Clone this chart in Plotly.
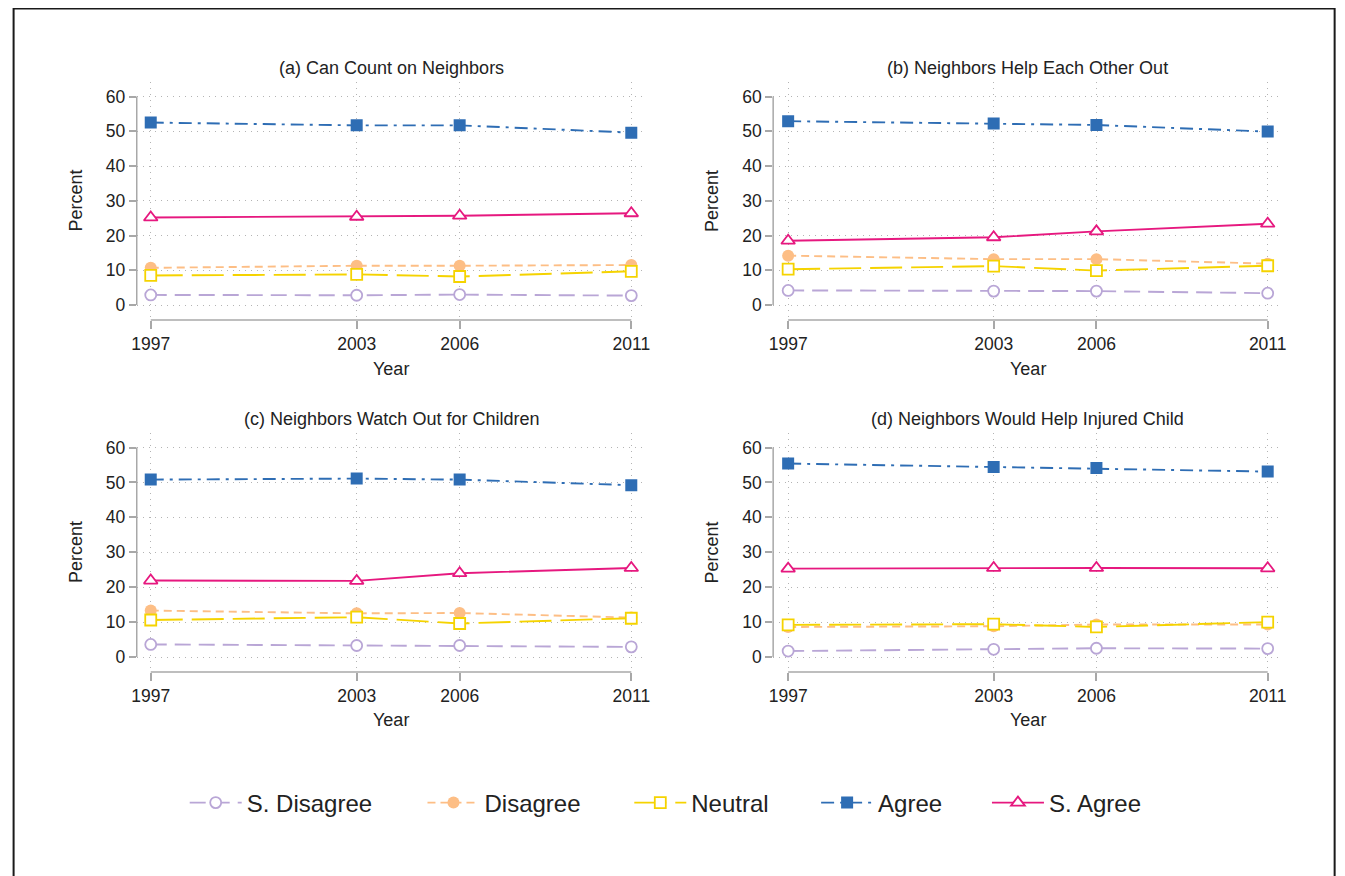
import plotly.graph_objects as go

W, H = 1345, 868

years = [1997, 2003, 2006, 2011]
series_names = ["S. Disagree", "Disagree", "Neutral", "Agree", "S. Agree"]
panel_titles = ["(a) Can Count on Neighbors", "(b) Neighbors Help Each Other Out",
                "(c) Neighbors Watch Out for Children", "(d) Neighbors Would Help Injured Child"]
y_ticks = [0, 10, 20, 30, 40, 50, 60]

# panel (a)
a_s_disagree = [2.9, 2.8, 3.0, 2.7]
a_disagree = [10.7, 11.3, 11.3, 11.5]
a_neutral = [8.5, 8.8, 8.2, 9.7]
a_agree = [52.5, 51.7, 51.7, 49.6]
a_s_agree = [25.2, 25.4, 25.7, 26.4]
# panel (b)
b_s_disagree = [4.2, 4.0, 4.0, 3.4]
b_disagree = [14.2, 13.2, 13.2, 11.9]
b_neutral = [10.3, 11.2, 9.9, 11.3]
b_agree = [52.9, 52.2, 51.8, 49.9]
b_s_agree = [18.5, 19.5, 21.2, 23.4]
# panel (c)
c_s_disagree = [3.6, 3.3, 3.3, 2.9]
c_disagree = [13.3, 12.5, 12.6, 11.3]
c_neutral = [10.6, 11.4, 9.6, 11.1]
c_agree = [50.8, 51.1, 50.8, 49.2]
c_s_agree = [21.9, 21.8, 24.0, 25.5]
# panel (d)
d_s_disagree = [1.7, 2.2, 2.5, 2.4]
d_disagree = [8.6, 8.8, 9.3, 9.3]
d_neutral = [9.2, 9.4, 8.6, 10.0]
d_agree = [55.4, 54.4, 54.1, 53.1]
d_s_agree = [25.3, 25.5, 25.5, 25.4]

panels = [
    [a_s_disagree, a_disagree, a_neutral, a_agree, a_s_agree],
    [b_s_disagree, b_disagree, b_neutral, b_agree, b_s_agree],
    [c_s_disagree, c_disagree, c_neutral, c_agree, c_s_agree],
    [d_s_disagree, d_disagree, d_neutral, d_agree, d_s_agree],
]

colors = ["#B9A6D6", "#FDBE85", "#F5D300", "#2E6DB4", "#E6187F"]
symbols = ["circle", "circle", "square", "square", "triangle-up"]
hollow = [True, False, True, False, True]
dashes = ["16px,8px", "8px,5px", "32px,9px", "13px,6px,3px,6px", "solid"]
msizes = [11, 12, 11, 12, 12]

FONT = "Liberation Sans, Arial, Helvetica, sans-serif"
TXT = "#222222"
GRID = "#b4b4b4"
AXIS = "#a8a8a8"


# reference-picture pixel -> paper fraction (page has 8px body margin,
# photographed picture is compressed slightly in x)
def fx(p):
    return ((p - 4.2) / 0.992 - 8) / W


def fy(p):
    return 1 - (p - 8) / H


# pixel boxes in reference coordinates: (left, right, top, bottom)
boxes = [(136, 643, 82, 320), (773, 1281, 82, 320),
         (136, 643, 433, 672), (773, 1281, 433, 672)]

legend_ids = ["legend", "legend2", "legend3", "legend4", "legend5"]
legend_text_start = [250, 488, 695, 882, 1053]

fig = go.Figure()

for i, data in enumerate(panels):
    ax = "" if i == 0 else str(i + 1)
    for j, name in enumerate(series_names):
        fig.add_trace(go.Scatter(
            x=years, y=data[j], mode="lines+markers", name=name,
            xaxis="x" + ax, yaxis="y" + ax,
            showlegend=(i == 0), legend=legend_ids[j], legendgroup=name,
            line=dict(color=colors[j], width=1.9, dash=dashes[j]),
            marker=dict(symbol=symbols[j], size=msizes[j],
                        color="white" if hollow[j] else colors[j],
                        line=dict(color=colors[j], width=1.8 if hollow[j] else 0)),
        ))

layout = dict(
    width=W, height=H,
    margin=dict(l=0, r=0, t=0, b=0),
    paper_bgcolor="white", plot_bgcolor="white",
    font=dict(family=FONT, color=TXT),
    showlegend=True,
)
for j, lid in enumerate(legend_ids):
    layout[lid] = dict(orientation="h", x=fx(legend_text_start[j] - 66), xanchor="left",
                       y=fy(803), yanchor="middle",
                       font=dict(size=24, family=FONT, color=TXT), itemwidth=52,
                       bgcolor="rgba(0,0,0,0)")

shapes = []
annotations = []
for i, (l, r, t, b) in enumerate(boxes):
    ax = "" if i == 0 else str(i + 1)
    if i < 2:
        y60, y0 = 96.5, 305.0
    else:
        y60, y0 = 447.5, 657.0
    ppu = (y0 - y60) / 60.0
    ylo = -(b - y0) / ppu
    yhi = 60 + (y60 - t) / ppu
    x1997 = 150.0 if i % 2 == 0 else 788.0
    x2011 = 631.0 if i % 2 == 0 else 1268.0
    ppy = (x2011 - x1997) / 14.0
    xlo = 1997 - (x1997 - l) / ppy
    xhi = 2011 + (r - x2011) / ppy
    layout["xaxis" + ax] = dict(
        domain=[fx(l), fx(r)], range=[xlo, xhi], anchor="y" + ax,
        tickvals=years, ticktext=[str(y) for y in years],
        ticks="outside", ticklen=8, tickcolor=AXIS, tickwidth=1.5,
        showgrid=True, gridcolor=GRID, griddash="1px,5px", gridwidth=1,
        showline=False, zeroline=False,
        tickfont=dict(size=17.5, family=FONT, color=TXT),
    )
    layout["yaxis" + ax] = dict(
        domain=[fy(b), fy(t)], range=[ylo, yhi], anchor="x" + ax,
        tickvals=y_ticks,
        ticks="outside", ticklen=7, tickcolor=AXIS, tickwidth=1.5,
        showgrid=True, gridcolor=GRID, griddash="1px,5px", gridwidth=1,
        showline=False, zeroline=False,
        tickfont=dict(size=17.5, family=FONT, color=TXT),
    )
    shapes.append(dict(type="line", xref="x" + ax + " domain", yref="y" + ax,
                       x0=0, x1=0, y0=0, y1=60,
                       line=dict(color=AXIS, width=1.5)))
    shapes.append(dict(type="line", xref="x" + ax, yref="y" + ax + " domain",
                       x0=1997, x1=2011, y0=0, y1=0,
                       line=dict(color=AXIS, width=1.5)))
    cx = (x1997 + x2011) / 2
    ty = 68 if i < 2 else 419
    yy = 369 if i < 2 else 720
    annotations.append(dict(text=panel_titles[i], xref="paper", yref="paper",
                            x=fx(cx), y=fy(ty), xanchor="center", yanchor="middle",
                            showarrow=False, font=dict(size=18, family=FONT, color=TXT)))
    annotations.append(dict(text="Year", xref="paper", yref="paper",
                            x=fx(cx), y=fy(yy), xanchor="center", yanchor="middle",
                            showarrow=False, font=dict(size=18, family=FONT, color=TXT)))
    annotations.append(dict(text="Percent", xref="paper", yref="paper",
                            x=fx(75 if i % 2 == 0 else 712), y=fy((y60 + y0) / 2),
                            xanchor="center", yanchor="middle", textangle=-90,
                            showarrow=False, font=dict(size=18, family=FONT, color=TXT)))

# outer frame (bottom edge lies below the picture, as in the reference)
shapes.append(dict(type="rect", xref="paper", yref="paper",
                   x0=0.6 / W, x1=fx(1335), y0=1 - 0.6 / H, y1=-0.05,
                   line=dict(color="#1a1a1a", width=2), fillcolor="rgba(0,0,0,0)"))

layout["shapes"] = shapes
layout["annotations"] = annotations
fig.update_layout(**layout)

fig.write_html("out.html")
